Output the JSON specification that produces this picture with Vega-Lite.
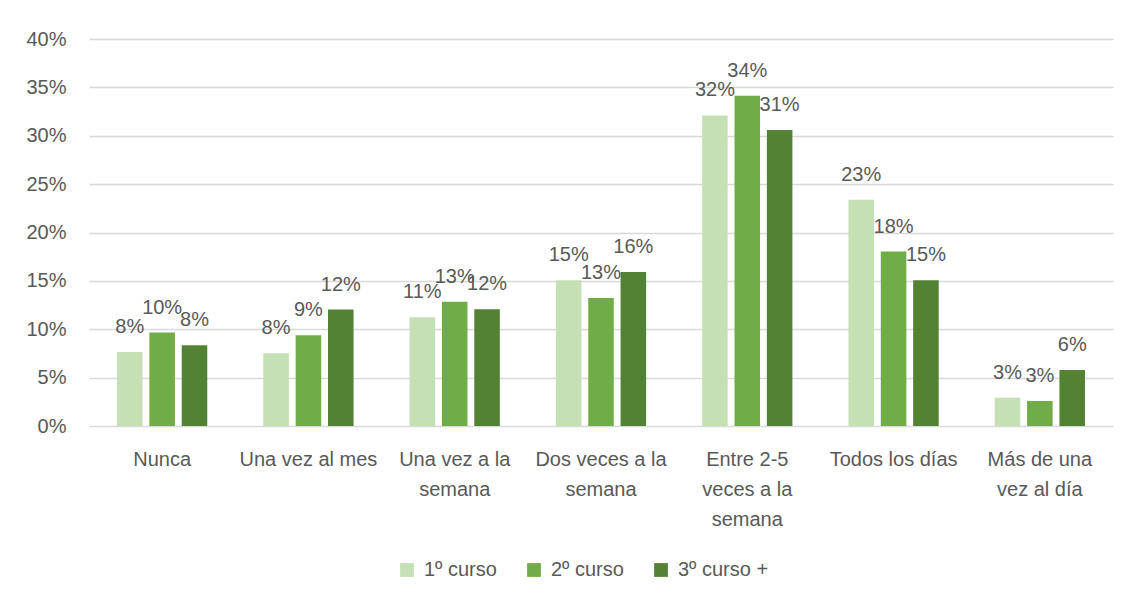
{
  "$schema": "https://vega.github.io/schema/vega-lite/v6.json",
  "width": 1024,
  "height": 387,
  "autosize": "none",
  "padding": {"left": 89, "top": 39, "right": 21, "bottom": 175},
  "background": "white",
  "config": {"view": {"stroke": null}, "font": "Liberation Sans"},
  "data": {
    "values": [
      {"cat": "Nunca", "serie": "1º curso", "v": 0.0766},
      {"cat": "Nunca", "serie": "2º curso", "v": 0.0966},
      {"cat": "Nunca", "serie": "3º curso +", "v": 0.0834},
      {"cat": "Una vez al mes", "serie": "1º curso", "v": 0.0752},
      {"cat": "Una vez al mes", "serie": "2º curso", "v": 0.0938},
      {"cat": "Una vez al mes", "serie": "3º curso +", "v": 0.1203},
      {"cat": "Una vez a la semana", "serie": "1º curso", "v": 0.1124},
      {"cat": "Una vez a la semana", "serie": "2º curso", "v": 0.1283},
      {"cat": "Una vez a la semana", "serie": "3º curso +", "v": 0.1207},
      {"cat": "Dos veces a la semana", "serie": "1º curso", "v": 0.1507},
      {"cat": "Dos veces a la semana", "serie": "2º curso", "v": 0.1324},
      {"cat": "Dos veces a la semana", "serie": "3º curso +", "v": 0.1593},
      {"cat": "Entre 2-5 veces a la semana", "serie": "1º curso", "v": 0.321},
      {"cat": "Entre 2-5 veces a la semana", "serie": "2º curso", "v": 0.3414},
      {"cat": "Entre 2-5 veces a la semana", "serie": "3º curso +", "v": 0.3059},
      {"cat": "Todos los días", "serie": "1º curso", "v": 0.2338},
      {"cat": "Todos los días", "serie": "2º curso", "v": 0.1803},
      {"cat": "Todos los días", "serie": "3º curso +", "v": 0.1507},
      {"cat": "Más de una vez al día", "serie": "1º curso", "v": 0.0293},
      {"cat": "Más de una vez al día", "serie": "2º curso", "v": 0.0259},
      {"cat": "Más de una vez al día", "serie": "3º curso +", "v": 0.0579}
    ]
  },
  "encoding": {
    "x": {
      "field": "cat",
      "type": "nominal",
      "sort": null,
      "scale": {"paddingInner": 0.383, "paddingOuter": 0.1915},
      "axis": {
        "title": null,
        "domain": false,
        "ticks": false,
        "tickSize": 0,
        "labelAngle": 0,
        "labelFontSize": 20,
        "labelColor": "#595959",
        "labelLineHeight": 30,
        "labelLimit": 300,
        "labelOverlap": false,
        "labelBaseline": "alphabetic",
        "labelPadding": 39,
        "labelExpr": "datum.value == 'Una vez a la semana' ? ['Una vez a la', 'semana'] : datum.value == 'Dos veces a la semana' ? ['Dos veces a la', 'semana'] : datum.value == 'Entre 2-5 veces a la semana' ? ['Entre 2-5', 'veces a la', 'semana'] : datum.value == 'Más de una vez al día' ? ['Más de una', 'vez al día'] : datum.value"
      }
    },
    "xOffset": {
      "field": "serie",
      "type": "nominal",
      "sort": null,
      "scale": {"paddingInner": 0.21, "paddingOuter": 0}
    },
    "y": {
      "field": "v",
      "type": "quantitative",
      "scale": {"domain": [0, 0.4]},
      "axis": {
        "title": null,
        "values": [0, 0.05, 0.1, 0.15, 0.2, 0.25, 0.3, 0.35, 0.4],
        "format": ".0%",
        "domain": false,
        "ticks": false,
        "tickSize": 0,
        "labelPadding": 23,
        "labelFontSize": 20,
        "labelColor": "#595959",
        "gridColor": "#d9d9d9",
        "gridWidth": 1.3
      }
    }
  },
  "layer": [
    {
      "mark": {"type": "bar"},
      "encoding": {
        "color": {
          "field": "serie",
          "type": "nominal",
          "sort": null,
          "scale": {
            "domain": ["1º curso", "2º curso", "3º curso +"],
            "range": ["#C5E0B4", "#70AD47", "#548235"]
          },
          "legend": {
            "title": null,
            "orient": "none",
            "legendX": 308,
            "legendY": 521,
            "direction": "horizontal",
            "symbolType": "square",
            "symbolSize": 190,
            "symbolStrokeWidth": 0,
            "labelFontSize": 20,
            "labelColor": "#595959",
            "labelOffset": 7,
            "columnPadding": 27,
            "padding": 0
          }
        }
      }
    },
    {
      "mark": {"type": "text", "baseline": "alphabetic", "dy": -19, "fontSize": 20, "color": "#595959"},
      "encoding": {
        "text": {"field": "v", "type": "quantitative", "format": ".0%"}
      }
    }
  ]
}
